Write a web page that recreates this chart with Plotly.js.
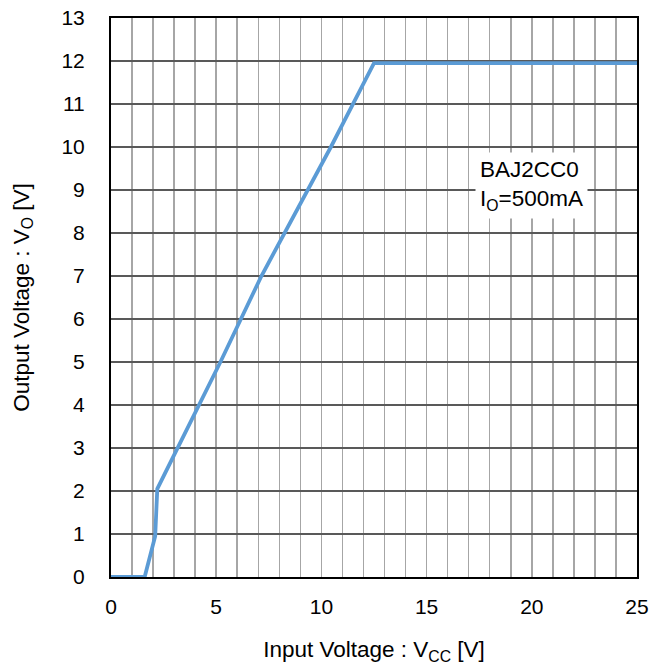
<!DOCTYPE html>
<html><head><meta charset="utf-8">
<script src="https://cdn.plot.ly/plotly-3.0.1.min.js"></script>
<style>html,body{margin:0;padding:0;background:#fff}</style>
</head><body><div id="chart" style="width:657px;height:668px"></div>
<script>
const vcc = [0, 1.6, 2.1, 2.2, 5.2, 7.15, 10.45, 12.5, 25];
const vout = [0, 0, 0.95, 2.05, 5.0, 7.0, 10.0, 11.95, 11.95];
const xTicks = [0, 5, 10, 15, 20, 25];
const yTicks = [0,1,2,3,4,5,6,7,8,9,10,11,12,13];
const noteLines = ["BAJ2CC0", "I<sub>O</sub>=500mA"];

function F(s) { return {family: "Liberation Sans, Arial, sans-serif", size: s, color: "#000"}; }
Plotly.newPlot("chart", [{
  x: vcc, y: vout, type: "scatter", mode: "lines",
  line: {color: "#5b9bd5", width: 3.8}, hoverinfo: "skip"
}], {
  width: 657, height: 668,
  margin: {l: 111, r: 20, t: 18, b: 91},
  paper_bgcolor: "#fff", plot_bgcolor: "#fff",
  showlegend: false,
  font: F(21),
  xaxis: {
    range: [0, 25], tickvals: xTicks, ticktext: xTicks.map(String),
    tickfont: F(21),
    showgrid: true, gridcolor: "#a6a6a6", gridwidth: 1.5,
    minor: {dtick: 1, showgrid: true, gridcolor: "#a6a6a6", gridwidth: 1.5},
    showline: true, linecolor: "#000", linewidth: 2, mirror: true,
    ticks: "", ticklabelstandoff: 10, zeroline: false,
    title: {text: "Input Voltage : V<sub>CC</sub> [V]", font: F(22.5), standoff: 24}
  },
  yaxis: {
    range: [0, 13], tickvals: yTicks, ticktext: yTicks.map(String),
    tickfont: F(21),
    showgrid: true, gridcolor: "#595959", gridwidth: 1.2,
    showline: true, linecolor: "#000", linewidth: 2, mirror: true,
    ticks: "", ticklabelstandoff: 20, zeroline: false,
    title: {text: "Output Voltage : V<sub>O</sub> [V]", font: F(22.5), standoff: 26}
  },
  annotations: [{
    xref: "x", yref: "y", x: 17.3, y: 9.1, xanchor: "left", yanchor: "middle",
    text: noteLines.join("<br>"), align: "left", showarrow: false,
    font: F(22.5),
    bgcolor: "#fff", borderpad: 4
  }]
}, {displayModeBar: false, staticPlot: true});
</script></body></html>
